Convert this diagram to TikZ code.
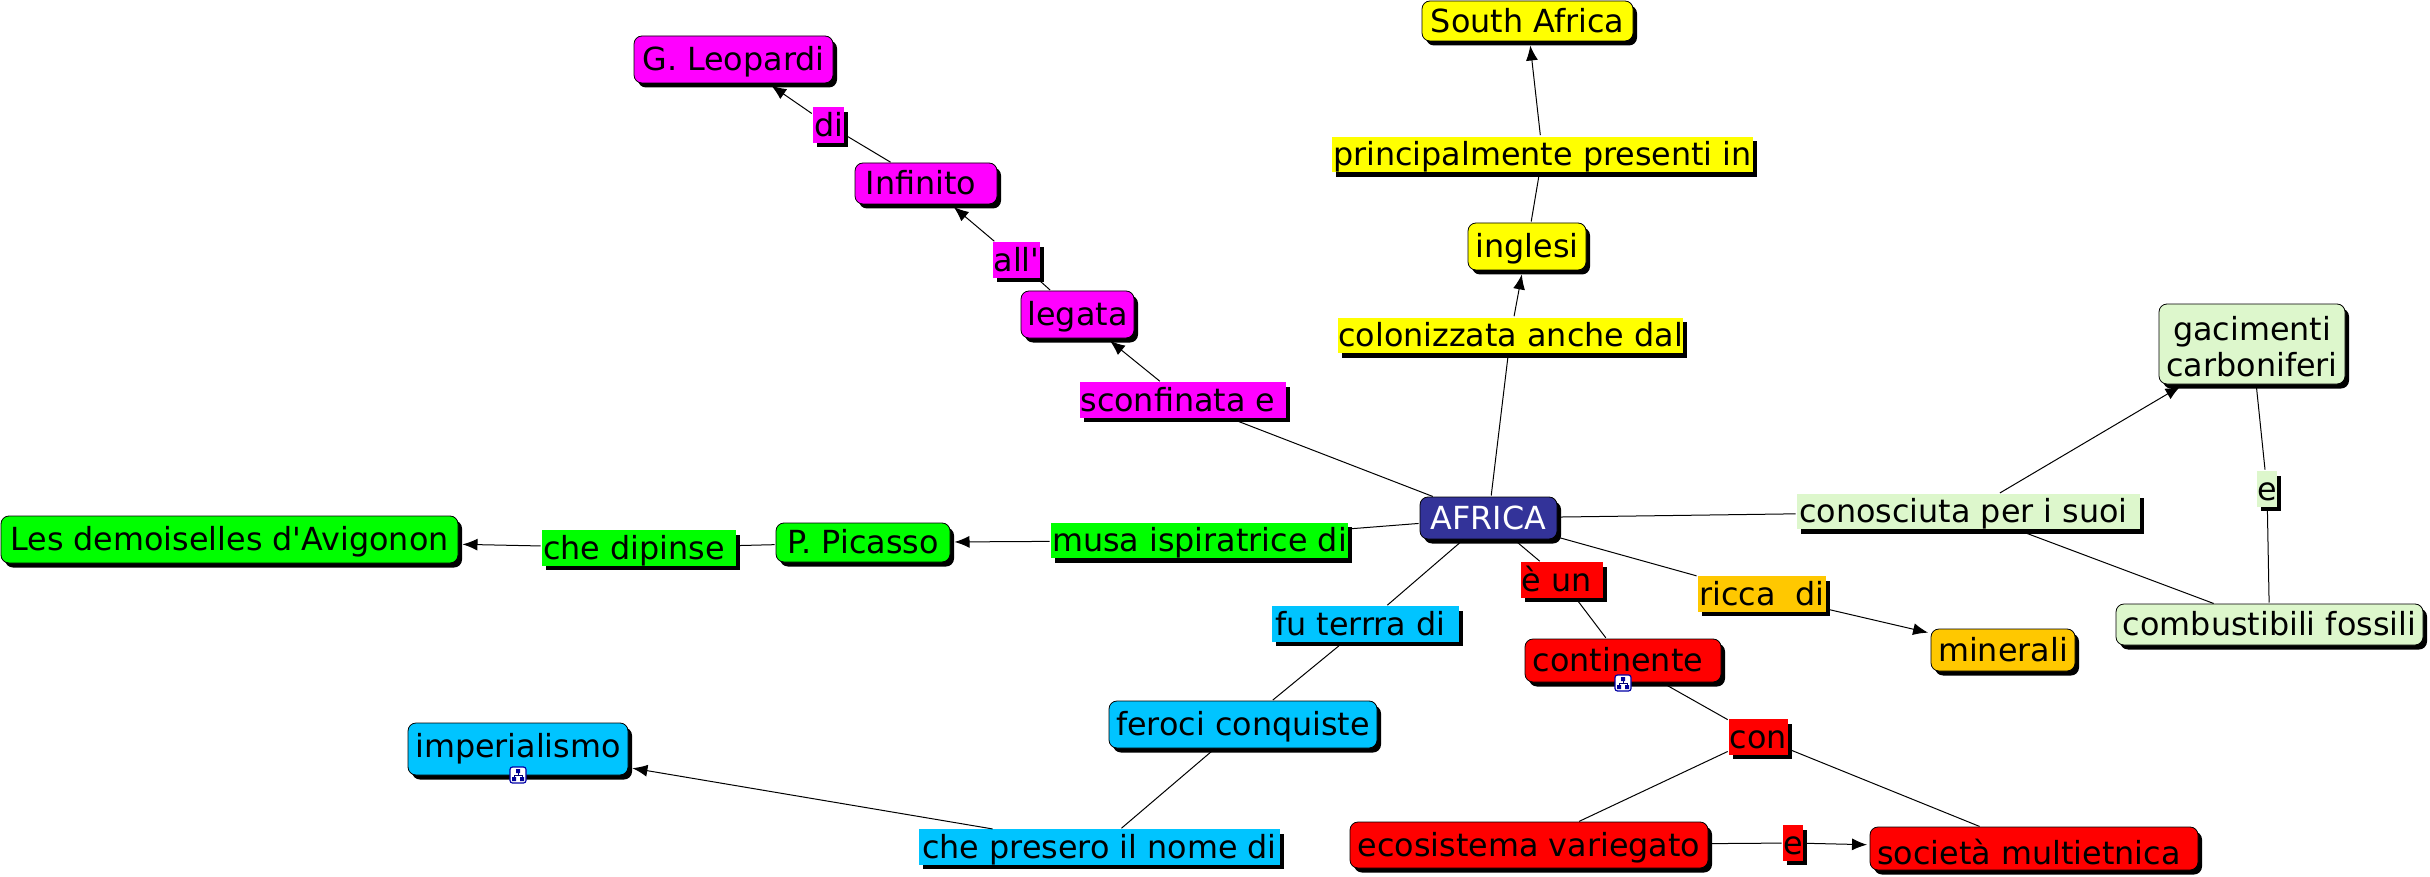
\documentclass[tikz,border=0pt]{standalone}
\usepackage{fontspec}
\setmainfont[Ligatures=TeXOff]{DejaVu Sans}
\usetikzlibrary{shadows,arrows.meta}
\definecolor{cMag}{HTML}{FF00FF}
\definecolor{cYel}{HTML}{FFFF00}
\definecolor{cGre}{HTML}{00FF00}
\definecolor{cBlu}{HTML}{00C4FF}
\definecolor{cRed}{HTML}{FF0000}
\definecolor{cOra}{HTML}{FFC800}
\definecolor{cLig}{HTML}{DDF7CC}
\definecolor{cNav}{HTML}{333399}
\newcommand\cbox[7]{%
  \pgfmathsetlengthmacro\bw{(#4-#2)*1pt}%
  \pgfmathsetlengthmacro\bh{(#5-#3)*1pt}%
  \node[#6,minimum width=\bw,minimum height=\bh] (#1) at ({(#2+#4)/2},{(#3+#5)/2}) {\rule{0pt}{29pt}\vphantom{g}#7};}
\newcommand\hier[2]{%
  \draw[draw=blue!65!black,fill=white,line width=1.2pt,rounded corners=2.5pt] (#1-8,#2-8) rectangle (#1+8,#2+8);
  \draw[blue!45!black,line width=0.7pt] (#1,#2-2) -- (#1,#2) (#1-4,#2+2) -- (#1-4,#2) -- (#1+4,#2) -- (#1+4,#2+2);
  \fill[blue!60!black] (#1-2,#2-6) rectangle (#1+2,#2-2) (#1-6,#2+2) rectangle (#1-2,#2+6) (#1+2,#2+2) rectangle (#1+6,#2+6);}
\tikzset{
  x=1pt,y=-1pt,
  shared/.style={font=\fontsize{31.8}{36}\selectfont,inner sep=0pt,outer sep=0pt,text=black,align=center},
  concept/.style={shared,rounded corners=8pt,draw=black,line width=0.8pt,fill=#1,
     drop shadow={shadow xshift=4pt,shadow yshift=-4.5pt,opacity=1,fill=black}},
  linker/.style={shared,fill=#1,
     drop shadow={shadow xshift=4pt,shadow yshift=-4.5pt,opacity=1,fill=black}},
  plain/.style={draw=black,line width=1pt,shorten <=1.5pt,shorten >=1.5pt},
  arrowed/.style={draw=black,line width=1pt,-{Latex[length=15pt,width=12pt]},shorten >=#1,shorten <=1.5pt},
  arrowed/.default=4.5pt
}
\begin{document}
\begin{tikzpicture}
\useasboundingbox (0,0) rectangle (2430,877);
% concepts
\cbox{africa}{1420}{497}{1557}{539}{concept=cNav,text=white}{AFRICA}
\cbox{south}{1422}{1}{1633}{41}{concept=cYel}{South Africa}
\cbox{inglesi}{1468}{223}{1586}{270}{concept=cYel}{inglesi}
\cbox{leopardi}{634}{36}{833}{83}{concept=cMag}{G. Leopardi}
\cbox{infinito}{855}{163}{997}{204}{concept=cMag}{Infinito\ }
\cbox{legata}{1021}{291}{1134}{338}{concept=cMag}{legata}
\cbox{demoiselles}{1}{516}{458}{563}{concept=cGre}{Les demoiselles d'Avigonon}
\cbox{picasso}{776}{523}{950}{562}{concept=cGre}{P. Picasso}
\cbox{imper}{408}{723}{628}{775}{concept=cBlu}{\raisebox{3pt}{imperialismo}}
\cbox{feroci}{1109}{701}{1377}{748}{concept=cBlu}{feroci conquiste}
\cbox{continente}{1525}{639}{1721}{682}{concept=cRed}{continente\ }
\cbox{ecosistema}{1350}{822}{1708}{868}{concept=cRed}{ecosistema variegato}
\cbox{societa}{1870}{827}{2198}{870}{concept=cRed}{\raisebox{-5pt}{società multietnica\ }}
\cbox{minerali}{1931}{629}{2075}{671}{concept=cOra}{minerali}
\cbox{combustibili}{2116}{604}{2423}{645}{concept=cLig}{combustibili fossili}
\cbox{gacimenti}{2159}{304}{2345}{384}{concept=cLig}{gacimenti\\carboniferi}
% linking phrases
\cbox{sconfinata}{1080}{387}{1286}{413}{linker=cMag}{sconfinata e\ }
\cbox{all}{993}{247}{1040}{273}{linker=cMag}{all'}
\cbox{di}{813}{112}{844}{138}{linker=cMag}{di}
\cbox{colonizzata}{1342}{322}{1679}{349}{linker=cYel}{colonizzata anche dal}
\cbox{principal}{1332}{138}{1753}{171}{linker=cYel}{principalmente presenti in}
\cbox{musa}{1051}{524}{1348}{557}{linker=cGre}{musa ispiratrice di}
\cbox{dipinse}{542}{532}{736}{564}{linker=cGre}{che dipinse\ }
\cbox{terra}{1272}{611}{1459}{637}{linker=cBlu}{fu terrra di\ }
\cbox{presero}{919}{831}{1280}{863}{linker=cBlu}{che presero il nome di}
\cbox{eun}{1521}{566}{1603}{594}{linker=cRed}{è un\ }
\cbox{con}{1729}{727}{1788}{747}{linker=cRed}{con}
\cbox{ered}{1783}{833}{1803}{853}{linker=cRed}{e}
\cbox{ricca}{1698}{581}{1826}{607}{linker=cOra}{ricca\ \ di}
\cbox{conosciuta}{1797}{495}{2140}{528}{linker=cLig}{conosciuta per i suoi\ }
\cbox{egreen}{2257}{476}{2277}{502}{linker=cLig}{e}
% connectors
\draw[plain] (africa) -- (sconfinata);
\draw[arrowed] (sconfinata) -- (legata);
\draw[plain] (legata) -- (all);
\draw[arrowed] (all) -- (infinito);
\draw[plain] (infinito) -- (di);
\draw[arrowed] (di) -- (leopardi);
\draw[plain] (africa) -- (colonizzata);
\draw[arrowed] (colonizzata) -- (inglesi);
\draw[plain] (inglesi) -- (principal);
\draw[arrowed] (principal) -- (south);
\draw[plain] (africa) -- (musa);
\draw[arrowed] (musa) -- (picasso);
\draw[plain] (picasso) -- (dipinse);
\draw[arrowed] (dipinse) -- (demoiselles);
\draw[plain] (africa) -- (terra);
\draw[plain] (terra) -- (feroci);
\draw[plain] (feroci) -- (presero);
\draw[arrowed] (presero) -- (imper);
\draw[plain] (africa) -- (eun);
\draw[plain] (eun) -- (continente);
\draw[plain] (continente) -- (con);
\draw[plain] (con) -- (ecosistema);
\draw[plain] (con) -- (societa);
\draw[plain] (ecosistema) -- (ered);
\draw[arrowed=3pt] (ered) -- (societa);
\draw[plain] (africa) -- (ricca);
\draw[arrowed=3pt] (ricca) -- (minerali);
\draw[plain] (africa) -- (conosciuta);
\draw[arrowed] (conosciuta) -- (gacimenti);
\draw[plain] (conosciuta) -- (combustibili);
\draw[plain] (combustibili) -- (egreen);
\draw[plain] (egreen) -- (gacimenti);
% sub-map icons
\hier{518}{775}
\hier{1623}{683}
\end{tikzpicture}
\end{document}
